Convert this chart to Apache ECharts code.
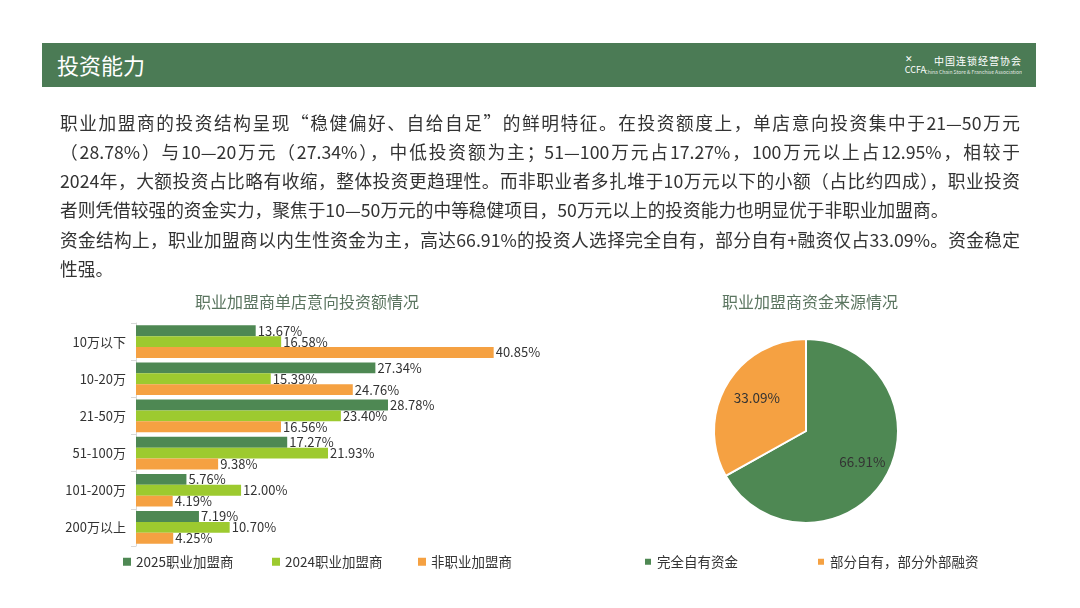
<!DOCTYPE html>
<html>
<head>
<meta charset="utf-8">
<script src="https://cdn.jsdelivr.net/npm/echarts@6/dist/echarts.min.js"></script>
<style>
  html, body { margin: 0; padding: 0; background: #fff; }
  body { width: 1080px; height: 608px; position: relative; overflow: hidden;
         font-family: "Noto Sans CJK SC", "Noto Sans", sans-serif; }
  #chart { position: absolute; left: 0; top: 0; width: 1080px; height: 608px; }
  .bar-head { position: absolute; left: 42px; top: 43px; width: 994px; height: 44px;
              background: #4b7b55; color: #fff; }
  .bar-head .t { position: absolute; left: 15px; top: 6px; font-size: 22px; line-height: 30px; }
  .logo { position: absolute; right: 14px; top: 10px; height: 26px; color: #fff; }
  .logo .cn { position: absolute; right: 0; top: 0; font-size: 10px; white-space: nowrap; letter-spacing: 1px; }
  .logo .en { position: absolute; right: 0; top: 15px; font-size: 5px; white-space: nowrap; opacity: .85; }
  .logo .mk { position: absolute; right: 96px; top: 0; font-size: 9px; line-height: 11px; white-space: nowrap; }
  .txt { position: absolute; left: 60px; width: 960px; font-size: 17.7px; color: #333; line-height: 29px;
         white-space: nowrap; }
  .full { text-align: justify; text-align-last: justify; }
</style>
</head>
<body>
<div id="chart"></div>
<div class="bar-head">
  <div class="t">投资能力</div>
  <div class="logo">
    <div class="mk">✕<br>CCFA</div>
    <div class="cn">中国连锁经营协会</div>
    <div class="en">China Chain Store &amp; Franchise Association</div>
  </div>
</div>
<div class="txt full" style="top:108px">职业加盟商的投资结构呈现“稳健偏好、自给自足”的鲜明特征。在投资额度上，单店意向投资集中于21—50万元</div>
<div class="txt full" style="top:137px">（28.78%）与10—20万元（27.34%），中低投资额为主；51—100万元占17.27%，100万元以上占12.95%，相较于</div>
<div class="txt full" style="top:166px">2024年，大额投资占比略有收缩，整体投资更趋理性。而非职业者多扎堆于10万元以下的小额（占比约四成），职业投资</div>
<div class="txt" style="top:195px">者则凭借较强的资金实力，聚焦于10—50万元的中等稳健项目，50万元以上的投资能力也明显优于非职业加盟商。</div>
<div class="txt full" style="top:225px">资金结构上，职业加盟商以内生性资金为主，高达66.91%的投资人选择完全自有，部分自有+融资仅占33.09%。资金稳定</div>
<div class="txt" style="top:254px">性强。</div>

<script>
// 投资额区间
var categories = ['10万以下', '10-20万', '21-50万', '51-100万', '101-200万', '200万以上']
var pro2025 = [13.67, 27.34, 28.78, 17.27, 5.76, 7.19]
var pro2024 = [16.58, 15.39, 23.40, 21.93, 12.00, 10.70]
var nonPro = [40.85, 24.76, 16.56, 9.38, 4.19, 4.25]
var barNames = ['2025职业加盟商', '2024职业加盟商', '非职业加盟商']

// 资金来源
var fundNames = ['完全自有资金', '部分自有，部分外部融资']
var fundValues = [66.91, 33.09]

var GREEN = '#4e8853'
var LIME = '#9dca2f'
var ORANGE = '#f5a142'
var FONT = '"Noto Sans CJK SC", "Noto Sans", sans-serif'

var myChart = echarts.init(document.getElementById('chart'))

function barSeries(name, data, color) {
  return {
    name: name,
    type: 'bar',
    data: data,
    barGap: '0%',
    barCategoryGap: '12%',
    itemStyle: { color: color },
    label: {
      show: true,
      position: 'right',
      distance: 2,
      color: '#333',
      fontSize: 13,
      formatter: function (p) { return p.value.toFixed(2) + '%' }
    }
  }
}

function legendAt(left, names, top) {
  return {
    data: names,
    left: left,
    top: top,
    icon: 'rect',
    itemWidth: 8,
    itemHeight: 8,
    itemGap: 40,
    textStyle: { fontSize: 13.5, color: '#333' }
  }
}

// 饼图标签稍微往外放一点
var pieLabelOffset = [[14, 6], [-7, -8]]

var option = {
  animation: false,
  textStyle: { fontFamily: FONT },
  title: [
    { text: '职业加盟商单店意向投资额情况', left: 302, top: 289, textAlign: 'center',
      textStyle: { fontSize: 16, fontWeight: 'normal', color: '#5b7560' } },
    { text: '职业加盟商资金来源情况', left: 805, top: 289, textAlign: 'center',
      textStyle: { fontSize: 16, fontWeight: 'normal', color: '#5b7560' } }
  ],
  legend: [
    legendAt(118, [barNames[0]], 550),
    legendAt(267, [barNames[1]], 550),
    legendAt(413, [barNames[2]], 550),
    legendAt(638, [fundNames[0]], 550),
    legendAt(811, [fundNames[1]], 550)
  ],
  grid: { left: 136, top: 323, width: 394, height: 223 },
  xAxis: { type: 'value', min: 0, max: 45, show: false },
  yAxis: {
    type: 'category',
    data: categories,
    inverse: true,
    axisLine: { lineStyle: { color: '#d9d9d9' } },
    axisTick: { show: true, length: 5, lineStyle: { color: '#d9d9d9' } },
    axisLabel: { color: '#333', fontSize: 13, margin: 10 }
  },
  series: [
    barSeries(barNames[0], pro2025, GREEN),
    barSeries(barNames[1], pro2024, LIME),
    barSeries(barNames[2], nonPro, ORANGE),
    {
      type: 'pie',
      center: [806, 431],
      radius: [0, 92],
      startAngle: 90,
      clockwise: true,
      itemStyle: { borderColor: '#fff', borderWidth: 2 },
      label: {
        show: true,
        position: 'inside',
        color: '#333',
        fontSize: 13.5,
        formatter: function (p) { return p.value.toFixed(2) + '%' }
      },
      data: fundNames.map(function (n, i) {
        return {
          name: n,
          value: fundValues[i],
          itemStyle: { color: [GREEN, ORANGE][i] },
          label: { offset: pieLabelOffset[i] }
        }
      })
    }
  ]
}

myChart.setOption(option)
window.addEventListener('resize', function () { myChart && myChart.resize() })
</script>
</body>
</html>
